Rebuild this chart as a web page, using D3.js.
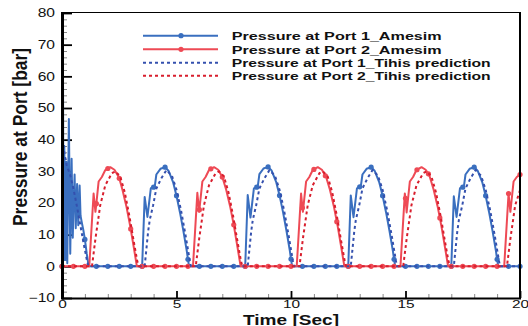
<!DOCTYPE html>
<html>
<head>
<meta charset="utf-8">
<script src="https://cdn.jsdelivr.net/npm/d3@7"></script>
<style>
  html, body { margin: 0; padding: 0; background: #fff; }
  svg { display: block; }
</style>
</head>
<body>
<svg id="chart" width="528" height="326"></svg>
<script>
// Pressure traces: [time (s), pressure (bar)]
const port1Amesim = [
  [0,0],[0.03,90],[0.07,2],[0.1,38],[0.14,2],[0.19,33],[0.23,1],[0.3,46.5],[0.36,4],[0.42,34],
  [0.47,9],[0.5,18],[0.55,29],[0.6,12],[0.66,26],[0.71,13],[0.77,25.5],[0.81,16],[0.86,14],
  [0.93,11.5],[1,8.5],[1.08,4],[1.15,0.8],[1.2,0],[1.5,0],[2,0],[2.5,0],[3,0],
  [3.5,0],[3.61,21.9],[3.73,15.6],[3.88,24.7],[4,25],[4.05,25.2],[4.12,29],[4.3,30.8],[4.5,31.3],
  [4.65,30.2],[4.85,26.6],[5,22.3],[5.15,17.1],[5.3,11.2],[5.45,4.8],[5.5,2.2],[5.55,0],
  [6,0],[6.5,0],[7,0],[7.5,0],
  [8,0],[8.11,22.5],[8.23,15.4],[8.38,24.6],[8.5,25],[8.55,25.3],[8.62,29.1],[8.8,30.9],[9,31.4],
  [9.15,30.3],[9.35,26.7],[9.5,22.4],[9.65,17.2],[9.8,11.3],[9.95,4.9],[10,2.3],[10.05,0],
  [10.5,0],[11,0],[11.5,0],[12,0],
  [12.5,0],[12.61,22.4],[12.73,15.5],[12.88,24.6],[13,25.1],[13.05,25.3],[13.12,29],[13.3,30.8],[13.5,31.3],
  [13.65,30.2],[13.85,26.6],[14,22.3],[14.15,17.1],[14.3,11.2],[14.45,4.8],[14.5,2.2],[14.55,0],
  [15,0],[15.5,0],[16,0],[16.5,0],
  [17,0],[17.11,22.1],[17.23,15.6],[17.38,24.7],[17.5,25],[17.55,25.2],[17.62,29],[17.8,30.8],[18,31.3],
  [18.15,30.2],[18.35,26.6],[18.5,22.3],[18.65,17.1],[18.8,11.2],[18.95,4.8],[19,2.2],[19.05,0],
  [19.5,0],[20,0]
];

const port2Amesim = [
  [0,0],[0.5,0],[1,0],
  [1.19,0],[1.38,23],[1.46,17.2],[1.5,19.8],[1.6,26.8],[1.74,28.2],[1.89,30.4],[2,30.9],[2.11,31.3],
  [2.29,30.5],[2.47,28.3],[2.5,27.8],[2.64,24.2],[2.81,19],[2.98,12.6],[3,11.8],[3.14,5.8],[3.27,0],
  [3.5,0],[4,0],[4.5,0],[5,0],[5.5,0],
  [5.72,0],[5.91,23.2],[5.99,17.2],[6,17.9],[6.13,26.8],[6.27,28.2],[6.42,30.4],[6.5,30.8],[6.64,31.3],
  [6.82,30.5],[7,28.2],[7.17,24.2],[7.34,19],[7.5,13.1],[7.51,12.6],[7.67,5.8],[7.8,0],
  [8,0],[8.5,0],[9,0],[9.5,0],[10,0],
  [10.25,0],[10.44,23],[10.5,18.5],[10.52,17.2],[10.66,26.8],[10.8,28.2],[10.95,30.4],[11,30.6],[11.17,31.3],
  [11.35,30.5],[11.5,28.6],[11.53,28.3],[11.7,24.2],[11.87,19],[12,14.1],[12.04,12.6],[12.2,5.8],[12.33,0],
  [12.5,0],[13,0],[13.5,0],[14,0],[14.5,0],
  [14.78,0],[14.97,23],[15,21.5],[15.05,17],[15.19,26.8],[15.33,28.2],[15.48,30.4],[15.5,30.5],[15.7,31.3],
  [15.88,30.5],[16,29.2],[16.06,28.3],[16.23,24.2],[16.4,19],[16.5,15.3],[16.57,12.6],[16.73,5.8],[16.86,0],
  [17,0],[17.5,0],[18,0],[18.5,0],[19,0],
  [19.31,0],[19.5,23],[19.58,17.2],[19.72,26.8],[19.86,28.2],[20,29]
];

const port1Tihis = [
  [0,42],[0.1,36],[0.2,32],[0.35,29],[0.5,24.5],[0.65,19],[0.8,13],[0.95,7],[1.1,1.5],[1.16,0],
  [3.61,0],[3.76,10.9],[3.83,14.6],[3.98,19.3],[4.12,24.6],[4.34,27.8],[4.56,30.4],[4.8,28.6],
  [5,24.2],[5.2,17.6],[5.4,9.6],[5.58,1.8],[5.63,0],
  [8.11,0],[8.26,10.9],[8.33,14.6],[8.48,19.3],[8.62,24.6],[8.84,27.8],[9.06,30.4],[9.3,28.6],
  [9.5,24.2],[9.7,17.6],[9.9,9.6],[10.08,1.8],[10.13,0],
  [12.61,0],[12.76,10.9],[12.83,14.6],[12.98,19.3],[13.12,24.6],[13.34,27.8],[13.56,30.4],[13.8,28.6],
  [14,24.2],[14.2,17.6],[14.4,9.6],[14.58,1.8],[14.63,0],
  [17.11,0],[17.26,10.9],[17.33,14.6],[17.48,19.3],[17.62,24.6],[17.84,27.8],[18.06,30.4],[18.3,28.6],
  [18.5,24.2],[18.7,17.6],[18.9,9.6],[19.08,1.8],[19.13,0],[20,0]
];

const port2Tihis = [
  [0,0],[1.31,0],[1.46,8.7],[1.67,19.3],[1.89,25.6],[2.18,29.4],[2.33,30],[2.54,28.4],[2.74,23.4],
  [2.94,16],[3.14,7.6],[3.29,1.5],[3.35,0],
  [5.84,0],[5.99,8.7],[6.2,19.3],[6.42,25.6],[6.71,29.4],[6.86,30],[7.07,28.4],[7.27,23.4],
  [7.47,16],[7.67,7.6],[7.82,1.5],[7.88,0],
  [10.37,0],[10.52,8.7],[10.73,19.3],[10.95,25.6],[11.24,29.4],[11.39,30],[11.6,28.4],[11.8,23.4],
  [12,16],[12.2,7.6],[12.35,1.5],[12.41,0],
  [14.9,0],[15.05,8.7],[15.26,19.3],[15.48,25.6],[15.77,29.4],[15.92,30],[16.13,28.4],[16.33,23.4],
  [16.53,16],[16.73,7.6],[16.88,1.5],[16.94,0],
  [19.43,0],[19.58,8.7],[19.79,19.3],[20,24]
];

const legendLabels = [
  "Pressure at Port 1_Amesim",
  "Pressure at Port 2_Amesim",
  "Pressure at Port 1_Tihis prediction",
  "Pressure at Port 2_Tihis prediction"
];

const yMajorTicks = [-10, 0, 10, 20, 30, 40, 50, 60, 70, 80];
const yMinorTicks = d3.range(-10, 80.001, 2).filter(v => v % 10 !== 0);
const xMajorTicks = [0, 5, 10, 15, 20];
const xMinorTicks = d3.range(0, 20.001, 1).filter(v => v % 5 !== 0);

const xTitle = "Time [Sec]";
const yTitle = "Pressure at Port [bar]";

// ---- layout ----
const svg = d3.select("#chart");
const plotLeft = 62, plotRight = 520, plotTop = 13, plotBottom = 298;
const x = d3.scaleLinear().domain([0, 20]).range([plotLeft, plotRight]);
const y = d3.scaleLinear().domain([-10, 80]).range([plotBottom, plotTop]);

const FONT = "'Liberation Sans', Arial, Helvetica, sans-serif";
const STRETCH = 1.3;

const styles = [
  { data: port1Amesim, color: "#3a6fbf", dash: null, markers: true },
  { data: port2Amesim, color: "#ee4a55", dash: null, markers: true },
  { data: port1Tihis, color: "#3450ae", dash: "3,3", markers: false },
  { data: port2Tihis, color: "#d81e2d", dash: "3,3", markers: false }
];

svg.append("defs").append("clipPath").attr("id", "plotClip")
  .append("rect").attr("x", plotLeft).attr("y", plotTop)
  .attr("width", plotRight - plotLeft).attr("height", plotBottom - plotTop);

// ---- axes ----
const yAxisMinor = d3.axisLeft(y).tickValues(yMinorTicks).tickSize(-5).tickFormat("");
const yAxisMajor = d3.axisLeft(y).tickValues(yMajorTicks).tickSize(-10).tickPadding(7).tickFormat(d3.format("d"));
const xAxisMinor = d3.axisBottom(x).tickValues(xMinorTicks).tickSize(-4).tickFormat("");
const xAxisMajor = d3.axisBottom(x).tickValues(xMajorTicks).tickSize(-7).tickPadding(2.5).tickFormat(d3.format("d"));

const gyMin = svg.append("g").attr("transform", `translate(${plotLeft},0)`).call(yAxisMinor);
const gyMaj = svg.append("g").attr("transform", `translate(${plotLeft},0)`).call(yAxisMajor);
const gxMin = svg.append("g").attr("transform", `translate(0,${plotBottom})`).call(xAxisMinor);
const gxMaj = svg.append("g").attr("transform", `translate(0,${plotBottom})`).call(xAxisMajor);

[gyMin, gyMaj, gxMin, gxMaj].forEach(g => g.select(".domain").remove());
gyMin.selectAll(".tick line").attr("stroke", "#8a8a8a").attr("stroke-width", 1);
gxMin.selectAll(".tick line").attr("stroke", "#8a8a8a").attr("stroke-width", 1);
gyMaj.selectAll(".tick line").attr("stroke", "#000").attr("stroke-width", 1.8);
gxMaj.selectAll(".tick line").attr("stroke", "#000").attr("stroke-width", 1.8);

gyMaj.selectAll(".tick text")
  .attr("font-family", FONT).attr("font-size", 12).attr("fill", "#111")
  .attr("x", -7 / STRETCH).attr("transform", `scale(${STRETCH},1)`);
gxMaj.selectAll(".tick text")
  .attr("font-family", FONT).attr("font-size", 11).attr("fill", "#111")
  .attr("transform", `scale(${STRETCH + 0.1},1)`);

// ---- series ----
const line = d3.line().x(d => x(d[0])).y(d => y(d[1]));
const isMarkerTime = t => Math.abs(t * 2 - Math.round(t * 2)) < 1e-6;

styles.forEach(s => {
  const g = svg.append("g");
  g.append("path")
    .datum(s.data)
    .attr("clip-path", "url(#plotClip)")
    .attr("d", line)
    .attr("fill", "none")
    .attr("stroke", s.color)
    .attr("stroke-width", 2)
    .attr("stroke-linejoin", "round")
    .attr("stroke-dasharray", s.dash);
  if (s.markers) {
    g.selectAll("circle")
      .data(s.data.filter(d => isMarkerTime(d[0]) && d[1] <= 80))
      .join("circle")
      .attr("cx", d => x(d[0]))
      .attr("cy", d => y(d[1]))
      .attr("r", 2.6)
      .attr("fill", s.color);
  }
});

// ---- frame ----
svg.append("line").attr("x1", plotLeft).attr("x2", plotRight)
  .attr("y1", plotTop - 0.5).attr("y2", plotTop - 0.5)
  .attr("stroke", "#000").attr("stroke-width", 1.2);
svg.append("line").attr("x1", plotRight).attr("x2", plotRight)
  .attr("y1", plotTop - 1).attr("y2", plotBottom + 1)
  .attr("stroke", "#000").attr("stroke-width", 2);
svg.append("line").attr("x1", plotLeft).attr("x2", plotRight + 1)
  .attr("y1", plotBottom + 0.5).attr("y2", plotBottom + 0.5)
  .attr("stroke", "#000").attr("stroke-width", 2);
svg.append("line").attr("x1", plotLeft + 0.5).attr("x2", plotLeft + 0.5)
  .attr("y1", plotTop - 1).attr("y2", plotBottom + 1.5)
  .attr("stroke", "#000").attr("stroke-width", 3);

// ---- legend ----
const legendRowY = [35.7, 49.3, 62.7, 75.7];
const legendTextLen = [210, 210, 259, 259];
const lg = svg.append("g");
styles.forEach((s, i) => {
  const ry = legendRowY[i];
  lg.append("line")
    .attr("x1", 143).attr("x2", 218).attr("y1", ry).attr("y2", ry)
    .attr("stroke", s.color).attr("stroke-width", 2)
    .attr("stroke-dasharray", s.dash);
  if (s.markers) {
    lg.append("circle").attr("cx", 181).attr("cy", ry).attr("r", 2.6).attr("fill", s.color);
  }
  lg.append("text")
    .attr("x", 231.7).attr("y", ry + 4.2)
    .attr("font-family", FONT).attr("font-weight", "bold").attr("font-size", 11.5)
    .attr("fill", "#111")
    .attr("textLength", legendTextLen[i]).attr("lengthAdjust", "spacingAndGlyphs")
    .text(legendLabels[i]);
});

// ---- axis titles ----
svg.append("text")
  .attr("x", 291).attr("y", 324.5)
  .attr("text-anchor", "middle")
  .attr("font-family", FONT).attr("font-weight", "bold").attr("font-size", 14.5).attr("fill", "#111")
  .attr("textLength", 96).attr("lengthAdjust", "spacingAndGlyphs")
  .text(xTitle);

svg.append("text")
  .attr("transform", `translate(27,137) scale(${STRETCH},1) rotate(-90)`)
  .attr("text-anchor", "middle")
  .attr("font-family", FONT).attr("font-weight", "bold").attr("font-size", 15).attr("fill", "#111")
  .attr("textLength", 178).attr("lengthAdjust", "spacingAndGlyphs")
  .text(yTitle);
</script>
</body>
</html>
